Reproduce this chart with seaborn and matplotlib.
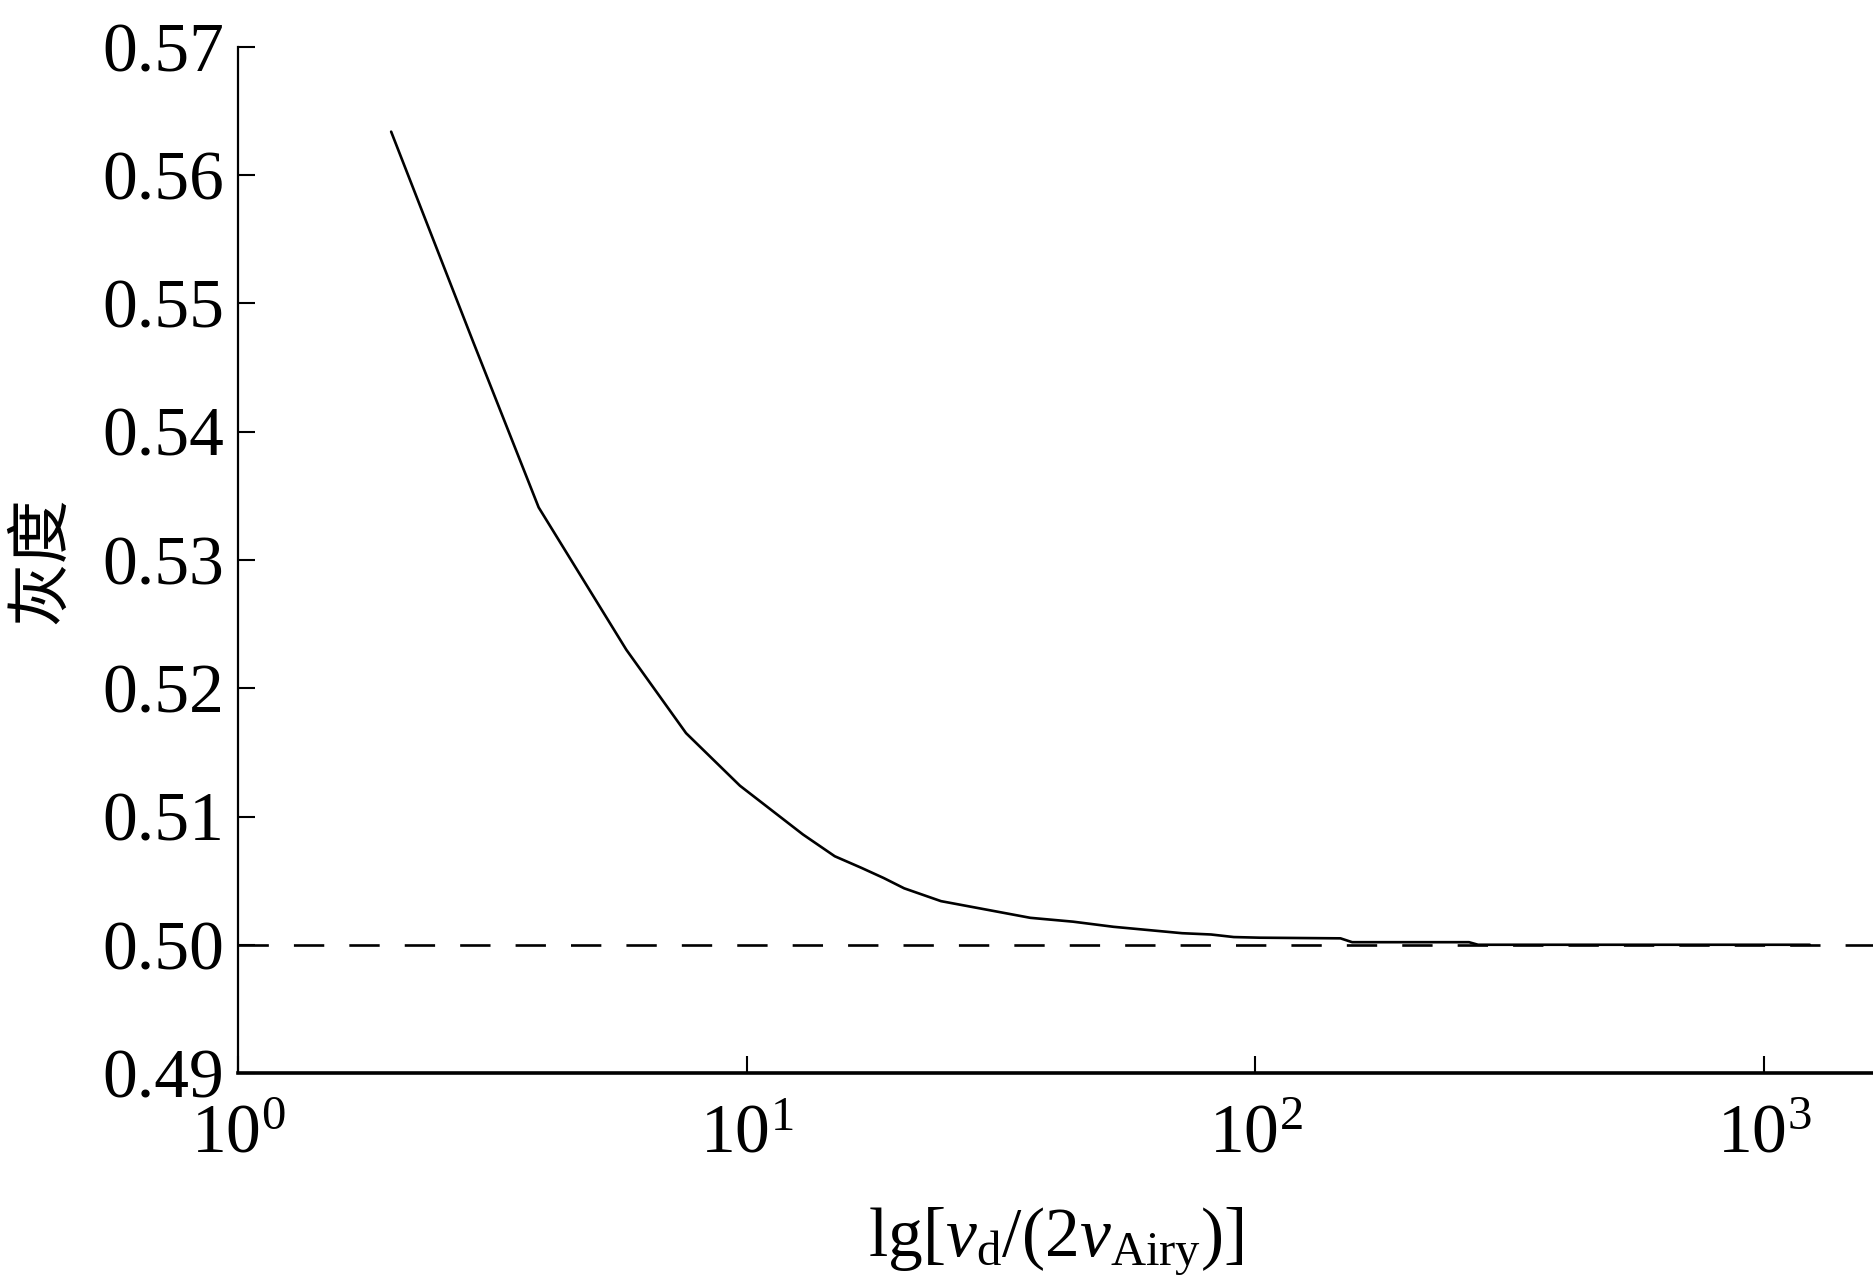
import matplotlib
matplotlib.use('Agg')
import matplotlib.pyplot as plt
import matplotlib.ticker as mticker
import seaborn as sns

# values
ratio = [2.0, 2.9, 3.9, 5.8, 7.6, 9.7, 12.9, 14.9, 16.8, 18.6, 20.4, 24.1,
         36.1, 43.8, 52.6, 71.8, 81.8, 90.7, 102, 147, 155, 263, 274, 1230]
gray = [0.5634, 0.5470, 0.5341, 0.5230, 0.5165, 0.5124, 0.5086, 0.5069,
        0.5060, 0.5052, 0.5044, 0.5034, 0.5021, 0.5018, 0.5014, 0.5009,
        0.5008, 0.5006, 0.50055, 0.5005, 0.5002, 0.5002, 0.5000, 0.5000]
baseline = 0.50
y_ticks = [0.49, 0.50, 0.51, 0.52, 0.53, 0.54, 0.55, 0.56, 0.57]
x_ticks = [1, 10, 100, 1000]

sns.set_style('ticks')
plt.rcParams['font.family'] = ['Liberation Serif', 'DejaVu Serif']
plt.rcParams['mathtext.fontset'] = 'custom'
plt.rcParams['mathtext.rm'] = 'Liberation Serif'
plt.rcParams['mathtext.it'] = 'Liberation Serif:italic'
plt.rcParams['text.color'] = 'black'
plt.rcParams['axes.labelcolor'] = 'black'
plt.rcParams['axes.edgecolor'] = 'black'

fig = plt.figure(figsize=(18.74, 12.88), dpi=100)
ax = fig.add_axes([238 / 1874, 215 / 1288, 1636 / 1874, 1026 / 1288])

sns.lineplot(x=ratio, y=gray, color='black', linewidth=1.9, ax=ax)
ax.axhline(baseline, color='black', linewidth=1.9, dashes=(11.5, 9.5))

ax.set_xscale('log')
ax.set_xlim(1, 1645)
ax.set_ylim(0.49, 0.57)
ax.set_xticks(x_ticks)
ax.xaxis.set_minor_locator(mticker.NullLocator())
ax.set_yticks(y_ticks)
ax.yaxis.set_major_formatter(mticker.FormatStrFormatter('%.2f'))

for side in ['top', 'right']:
    ax.spines[side].set_visible(False)
ax.spines['bottom'].set_linewidth(2.6)
ax.spines['left'].set_linewidth(1.6)
ax.tick_params(axis='both', which='major', direction='in', length=12.5, width=1.5,
               bottom=True, left=True, top=False, right=False,
               labelsize=50, color='black', labelcolor='black')
ax.tick_params(axis='y', pad=10)
ax.tick_params(axis='x', pad=22)

ax.set_xlabel(r'lg$[v_{\mathrm{d}}/(2v_{\mathrm{Airy}})]$', fontsize=50, labelpad=28)
ax.set_ylabel('灰度', fontsize=46, family=['Noto Sans CJK SC', 'DejaVu Sans'], labelpad=20)

fig.savefig('out.png', dpi=100)
